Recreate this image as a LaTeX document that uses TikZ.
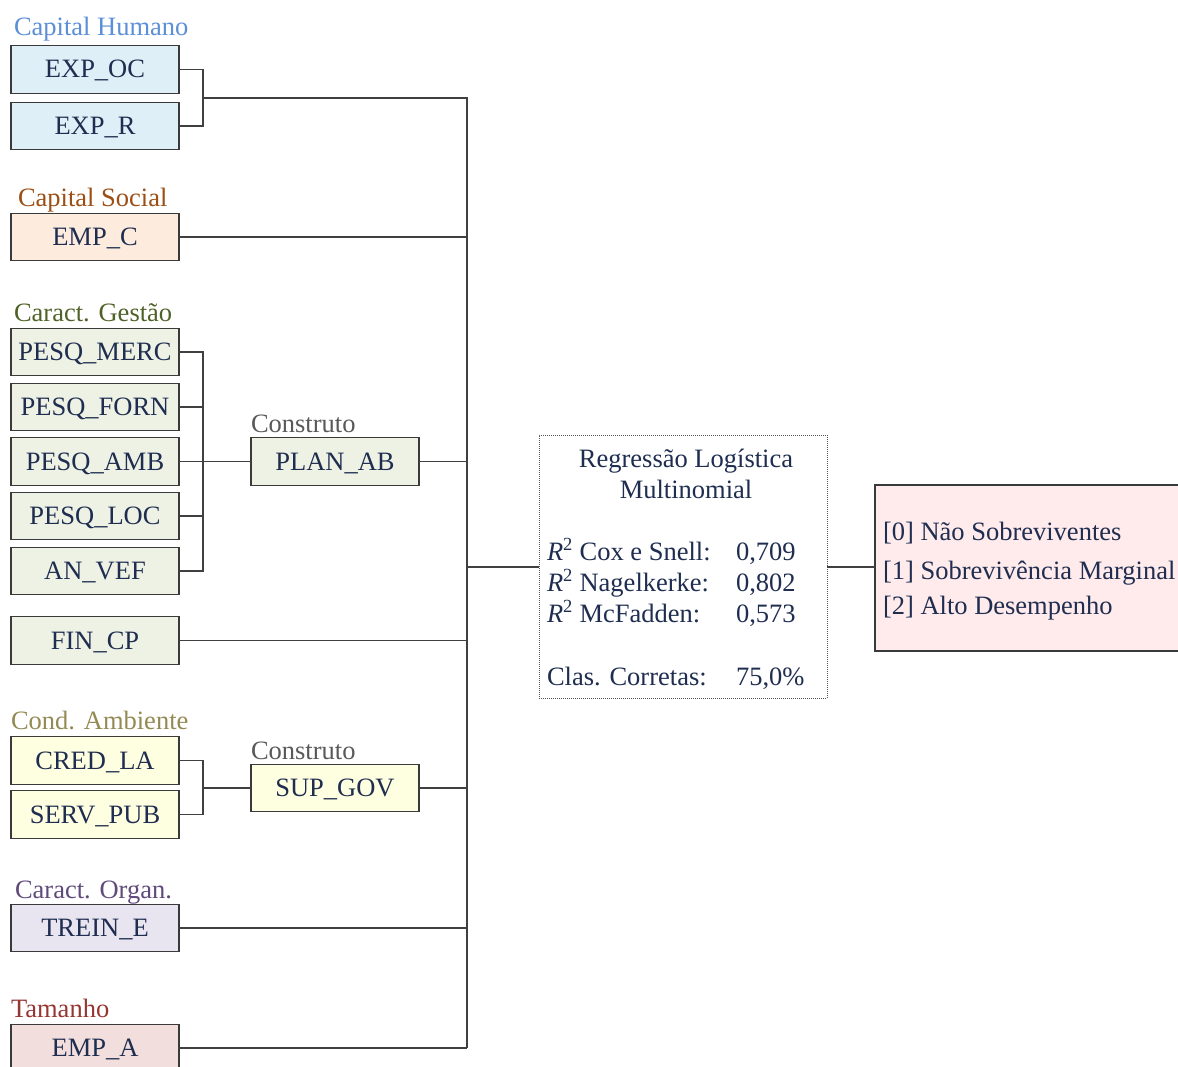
\documentclass[tikz,border=0pt]{standalone}
\usepackage{fontspec}
\setmainfont{Liberation Serif}
\begin{document}
\begin{tikzpicture}[x=1pt,y=-1pt,
  every node/.style={inner sep=0pt, outer sep=0pt},
  txt/.style={font=\fontsize{26.5}{30}\selectfont, text=navy},
  varbox/.style={txt, draw=edge, line width=1.2pt, minimum width=168pt, minimum height=47.5pt, text height=21pt, text depth=4pt},
  grouplabel/.style={font=\fontsize{26.5}{30}\selectfont, anchor=base west},
  wire/.style={draw=wirec, line width=1.1pt},
]
\definecolor{navy}{HTML}{1F2D50}
\definecolor{edge}{HTML}{3A3A3A}
\definecolor{wirec}{HTML}{404040}
\definecolor{cHum}{HTML}{5B8FD6}\definecolor{fHum}{HTML}{DFEFF7}
\definecolor{cSoc}{HTML}{9C4E14}\definecolor{fSoc}{HTML}{FDECDE}
\definecolor{cGes}{HTML}{4F6228}\definecolor{fGes}{HTML}{EEF2E5}
\definecolor{cAmb}{HTML}{948A54}\definecolor{fAmb}{HTML}{FEFEE0}
\definecolor{cOrg}{HTML}{604A7B}\definecolor{fOrg}{HTML}{E8E4F0}
\definecolor{cTam}{HTML}{963634}\definecolor{fTam}{HTML}{F2DEDD}
\definecolor{cCon}{HTML}{595959}
\definecolor{fOut}{HTML}{FFEBEB}
\definecolor{dotc}{HTML}{555555}

\useasboundingbox (0,0) rectangle (1178,1067);

% group labels
\node[grouplabel, text=cHum] (lHum) at (14,36) {Capital Humano};
\node[grouplabel, text=cSoc] (lSoc) at (18,207) {Capital Social};
\node[grouplabel, text=cGes] (lGes) at (14,322) {Caract. Gestão};
\node[grouplabel, text=cCon] (lCon1) at (251,432) {Construto};
\node[grouplabel, text=cAmb] (lAmb) at (11,729) {Cond. Ambiente};
\node[grouplabel, text=cCon] (lCon2) at (251,759) {Construto};
\node[grouplabel, text=cOrg] (lOrg) at (15,898) {Caract. Organ.};
\node[grouplabel, text=cTam] (lTam) at (11,1017) {Tamanho};

% variable boxes
\node[varbox, fill=fHum] (expoc) at (95,69.5) {EXP\_OC};
\node[varbox, fill=fHum] (expr) at (95,126) {EXP\_R};
\node[varbox, fill=fSoc] (empc) at (95,237) {EMP\_C};
\node[varbox, fill=fGes] (pmerc) at (95,352) {PESQ\_MERC};
\node[varbox, fill=fGes] (pforn) at (95,407) {PESQ\_FORN};
\node[varbox, fill=fGes] (pamb) at (95,461.5) {PESQ\_AMB};
\node[varbox, fill=fGes] (ploc) at (95,516) {PESQ\_LOC};
\node[varbox, fill=fGes] (anvef) at (95,571) {AN\_VEF};
\node[varbox, fill=fGes] (fincp) at (95,640.5) {FIN\_CP};
\node[varbox, fill=fAmb] (credla) at (95,760.5) {CRED\_LA};
\node[varbox, fill=fAmb] (servpub) at (95,814.5) {SERV\_PUB};
\node[varbox, fill=fOrg] (treine) at (95,928) {TREIN\_E};
\node[varbox, fill=fTam] (empa) at (95,1048) {EMP\_A};

% constructs
\node[varbox, fill=fGes] (planab) at (335,461.5) {PLAN\_AB};
\node[varbox, fill=fAmb] (supgov) at (335,788) {SUP\_GOV};

% regression box
\node[draw=dotc, densely dotted, line width=1pt, fill=white, minimum width=288pt, minimum height=263pt] (reg) at (683,566.5) {};
\node[txt, anchor=base] (rt1) at (686,467) {Regressão Logística};
\node[txt, anchor=base] (rt2) at (686,498) {Multinomial};
\node[txt, anchor=base west] (r1) at (547,560) {\textit{R}\textsuperscript{2} Cox e Snell:};
\node[txt, anchor=base west] (r2) at (547,591) {\textit{R}\textsuperscript{2} Nagelkerke:};
\node[txt, anchor=base west] (r3) at (547,622) {\textit{R}\textsuperscript{2} McFadden:};
\node[txt, anchor=base west] (r4) at (547,685) {Clas. Corretas:};
\node[txt, anchor=base west] (v1) at (736,560) {0,709};
\node[txt, anchor=base west] (v2) at (736,591) {0,802};
\node[txt, anchor=base west] (v3) at (736,622) {0,573};
\node[txt, anchor=base west] (v4) at (736,685) {75,0\%};

% outcome box
\node[draw=edge, line width=1.2pt, fill=fOut, minimum width=320pt, minimum height=166pt] (out) at (1035,568) {};
\node[txt, anchor=base west] (o1) at (883,540) {[0] Não Sobreviventes};
\node[txt, anchor=base west] (o2) at (883,579) {[1] Sobrevivência Marginal};
\node[txt, anchor=base west] (o3) at (883,614) {[2] Alto Desempenho};

% junction points
\coordinate (jHum) at (203,98);
\coordinate (jGes) at (203,461.5);
\coordinate (jAmb) at (203,788);
\coordinate (spTop) at (467,98);
\coordinate (spBot) at (467,1048);
\coordinate (spReg) at (467,567);

% brackets
\draw[wire] (expoc.east) -| (jHum) |- (expr.east);
\draw[wire] (pmerc.east) -| (jGes) |- (anvef.east);
\draw[wire] (pforn.east) -- (pforn.east -| jGes);
\draw[wire] (ploc.east) -- (ploc.east -| jGes);
\draw[wire] (pamb.east) -- (planab.west);
\draw[wire] (credla.east) -| (jAmb) |- (servpub.east);
\draw[wire] (jAmb) -- (supgov.west);

% spine and feeders
\draw[wire] (jHum) -- (spTop) -- (spBot);
\draw[wire] (empc.east) -- (empc.east -| spTop);
\draw[wire] (planab.east) -- (planab.east -| spTop);
\draw[wire] (fincp.east) -- (fincp.east -| spTop);
\draw[wire] (supgov.east) -- (supgov.east -| spTop);
\draw[wire] (treine.east) -- (treine.east -| spTop);
\draw[wire] (empa.east) -- (spBot);
\draw[wire] (spReg) -- (reg.west |- spReg);
\draw[wire] (reg.east |- spReg) -- (out.west |- spReg);
\end{tikzpicture}
\end{document}
